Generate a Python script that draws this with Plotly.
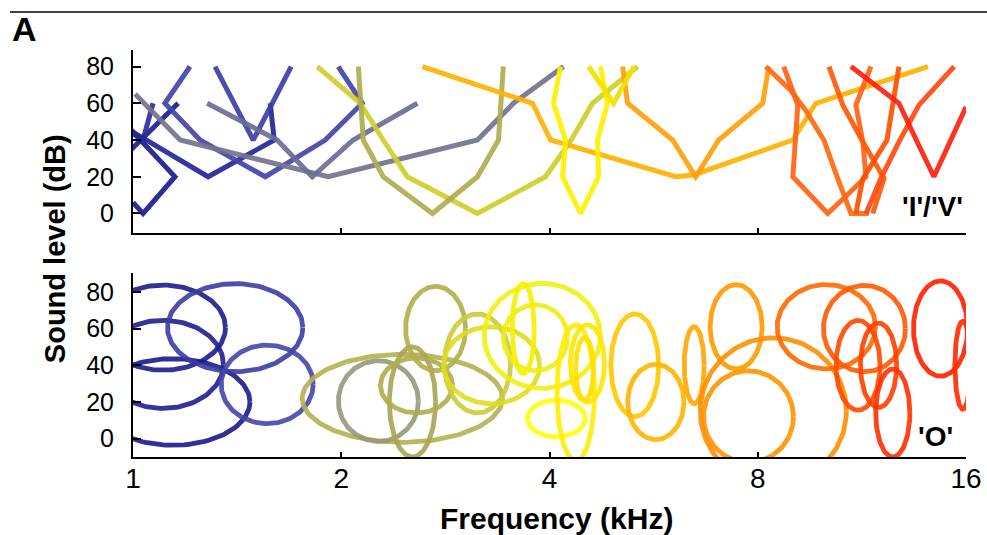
import numpy as np
import plotly.graph_objects as go

# ---------------- data ----------------
# Top panel: 'I'/'V' shaped frequency tuning curves (frequency kHz, level dB)
curve_khz = [
    [1.0, 1.034, 1.150, 0.985],
    [0.983, 1.162],
    [0.983, 1.034, 1.069],
    [0.983, 1.284, 1.60, 1.579],
    [1.209, 1.112, 1.250, 1.553, 1.896, 2.145, 1.980],
    [1.314, 1.40, 1.492, 1.59, 1.693],
    [1.007, 1.170, 1.915, 3.147, 3.548, 4.192],
    [1.280, 1.616, 1.816, 2.081, 2.577],
    [1.846, 2.131, 2.300, 2.492, 3.147, 3.947, 4.30, 4.616, 5.363],
    [2.117, 2.152, 2.300, 2.709, 3.147, 3.375, 3.43],
    [2.620, 3.780, 4.013, 6.087, 6.463, 8.991, 9.707, 14.10],
    [5.102, 5.187, 6.026, 6.507, 7.025, 8.134, 8.298],
    [4.150, 4.054, 4.220, 4.178, 4.435, 4.710, 4.694, 4.853, 4.741],
    [4.555, 4.951, 5.30],
    [8.216, 8.930, 9.389, 9.969, 10.44, 10.91, 11.58],
    [8.724, 9.142, 8.991, 10.10, 11.47, 11.35, 11.09, 11.66],
    [10.14, 10.62, 11.35, 12.18, 11.73],
    [12.80, 12.55, 12.30, 11.35, 11.09],
    [15.38, 13.68, 12.80, 12.05, 11.47],
    [10.91, 12.80, 13.56, 14.38, 16.0],
]
curve_db = [
    [6, 0, 20, 47],
    [33, 60],
    [45, 40, 60],
    [46, 20, 40, 60],
    [80, 60, 40, 20, 40, 60, 80],
    [80, 60, 40, 60, 80],
    [65, 40, 20, 40, 60, 80],
    [60, 40, 20, 40, 60],
    [80, 60, 40, 20, 0, 20, 40, 60, 80],
    [80, 40, 20, 0, 20, 40, 80],
    [80, 60, 40, 20, 21, 40, 60, 80],
    [80, 60, 40, 20, 40, 60, 80],
    [80, 60, 40, 20, 0, 20, 40, 60, 80],
    [80, 60, 80],
    [80, 67, 56, 40, 19, 0, 0],
    [80, 59, 20, 0, 20, 39, 59, 80],
    [80, 59, 39, 19, 0],
    [80, 60, 40, 19, 0],
    [80, 59, 39, 19, 0],
    [80, 60, 40, 20, 58],
]
curve_colors = [
    "#1c1c8e", "#1e1e90", "#2e2e9c", "#25259a", "#4444aa", "#3e3ea6",
    "#74748e", "#6c6c98", "#cfcf2a", "#afad4e", "#ffb300", "#ffa10a",
    "#fff000", "#f5e000", "#ff6a10", "#ff6414", "#ff5a08", "#ff5000",
    "#ff4a10", "#ff2010",
]

# Bottom panel: 'O' shaped (ellipse) response areas
ell_center_khz = [1.105, 1.105, 1.142, 1.405, 1.563, 2.451, 2.263, 2.535, 2.569,
                  2.738, 3.147, 3.298, 3.905, 3.818, 3.665, 4.092, 4.365, 4.538,
                  4.496, 5.313, 5.699, 6.475, 7.445, 8.425, 7.757, 10.05, 11.41,
                  11.17, 11.96, 12.54, 14.70, 15.83]
ell_center_db = [60.5, 40.5, 20, 60.5, 29.6, 22, 20.5, 20, 29, 60, 41, 40, 56, 55,
                 60, 11, 25, 41, 38, 40, 20, 40, 61, 15, 12, 61, 60, 40, 40, 14,
                 60, 40]
ell_halfwidth_oct = [0.300, 0.290, 0.370, 0.325, 0.221, 0.481, 0.192, 0.111, 0.173,
                     0.144, 0.159, 0.231, 0.279, 0.154, 0.053, 0.139, 0.090, 0.082,
                     0.043, 0.115, 0.135, 0.048, 0.125, 0.351, 0.216, 0.236, 0.197,
                     0.106, 0.087, 0.082, 0.130, 0.038]
ell_halfheight_db = [23.2, 24, 23.6, 24, 21.4, 24, 22, 30, 15, 23, 27, 21, 28.6, 18,
                     24.5, 10, 37, 21, 17, 28, 20.5, 21, 23, 40, 25, 23, 23.5, 24.5,
                     23, 24, 26, 24]
ell_colors = ["#1c1c8e", "#1f1f90", "#1a1a8c", "#3c3ca6", "#4646aa", "#b4b250",
              "#98987a", "#a8a655", "#b0ae4c", "#b2b04a", "#cccc3a", "#dede20",
              "#f2f010", "#eeee18", "#f8f000", "#ffff10", "#ffee00", "#ffe800",
              "#ffe000", "#ffc800", "#ffb400", "#ffa800", "#ff9a00", "#ff9000",
              "#ff9400", "#ff6a00", "#ff5a00", "#ff4a00", "#ff4000", "#ff3000",
              "#ff2000", "#ff2a00"]

freq_ticks = [1, 2, 4, 8, 16]
freq_ticktext = ["1", "2", "4", "8", "16"]
level_ticks = [0, 20, 40, 60, 80]

FONT = "Liberation Sans, Arial, sans-serif"

# ---------------- figure ----------------
fig = go.Figure()

for fx, fy, col in zip(curve_khz, curve_db, curve_colors):
    fig.add_trace(go.Scatter(x=fx, y=fy, mode="lines", xaxis="x", yaxis="y",
                             line=dict(color=col, width=5), opacity=0.92,
                             showlegend=False, hoverinfo="skip"))

t = np.linspace(0, 2 * np.pi, 160)
for cf, cd, hw, hh, col in zip(ell_center_khz, ell_center_db, ell_halfwidth_oct,
                               ell_halfheight_db, ell_colors):
    ex = cf * 2.0 ** (hw * np.cos(t))
    ey = cd + hh * np.sin(t)
    fig.add_trace(go.Scatter(x=ex, y=ey, mode="lines", xaxis="x2", yaxis="y2",
                             line=dict(color=col, width=4.8), opacity=0.9,
                             showlegend=False, hoverinfo="skip"))

xcommon = dict(type="log", range=[0, np.log10(16)], tickvals=freq_ticks,
               ticktext=freq_ticktext, showgrid=False, zeroline=False,
               showline=True, linecolor="black", linewidth=2, automargin=False,
               ticks="inside", ticklen=5, tickwidth=2, tickcolor="black")
ycommon = dict(tickvals=level_ticks, showgrid=False, zeroline=False,
               showline=True, linecolor="black", linewidth=2, automargin=False,
               ticks="inside", ticklen=8, tickwidth=2, tickcolor="black",
               tickfont=dict(family=FONT, size=25, color="black"),
               ticklabelstandoff=12)

fig.update_layout(
    width=987, height=535,
    margin=dict(l=133, r=21, t=50, b=78),
    paper_bgcolor="white", plot_bgcolor="white",
    xaxis=dict(**xcommon, domain=[0, 1], anchor="y", showticklabels=False),
    yaxis=dict(**ycommon, domain=[0.550, 1], anchor="x", range=[-10.7, 89]),
    xaxis2=dict(**xcommon, domain=[0, 1], anchor="y2", showticklabels=True,
                tickfont=dict(family=FONT, size=28, color="black"),
                ticklabelstandoff=-5),
    yaxis2=dict(**ycommon, domain=[0, 0.4517], anchor="x2", range=[-10, 90.2]),
    annotations=[
        dict(text="<b>A</b>", x=-0.1477, y=1.0517, xref="paper", yref="paper",
             xanchor="left", yanchor="middle", showarrow=False,
             font=dict(family=FONT, size=34, color="black")),
        dict(text="<b>Sound level (dB)</b>", x=-0.0936, y=0.5107, xref="paper",
             yref="paper", xanchor="center", yanchor="middle", textangle=-90,
             showarrow=False, font=dict(family=FONT, size=29, color="black")),
        dict(text="<b>Frequency (kHz)</b>", x=0.508, y=-0.1507, xref="paper",
             yref="paper", xanchor="center", yanchor="middle", showarrow=False,
             font=dict(family=FONT, size=30, color="black")),
        dict(text="<b>'I'/'V'</b>", x=0.9988, y=0.6164, xref="paper", yref="paper",
             xanchor="right", yanchor="middle", showarrow=False,
             font=dict(family=FONT, size=28, color="black")),
        dict(text="<b>'O'</b>", x=0.9868, y=0.0497, xref="paper", yref="paper",
             xanchor="right", yanchor="middle", showarrow=False,
             font=dict(family=FONT, size=28, color="black")),
    ],
    shapes=[
        dict(type="line", xref="paper", yref="paper", x0=-0.1477, x1=1.0252,
             y0=1.0934, y1=1.0934, line=dict(color="black", width=1.5)),
    ],
)

fig.write_html("out.html")
